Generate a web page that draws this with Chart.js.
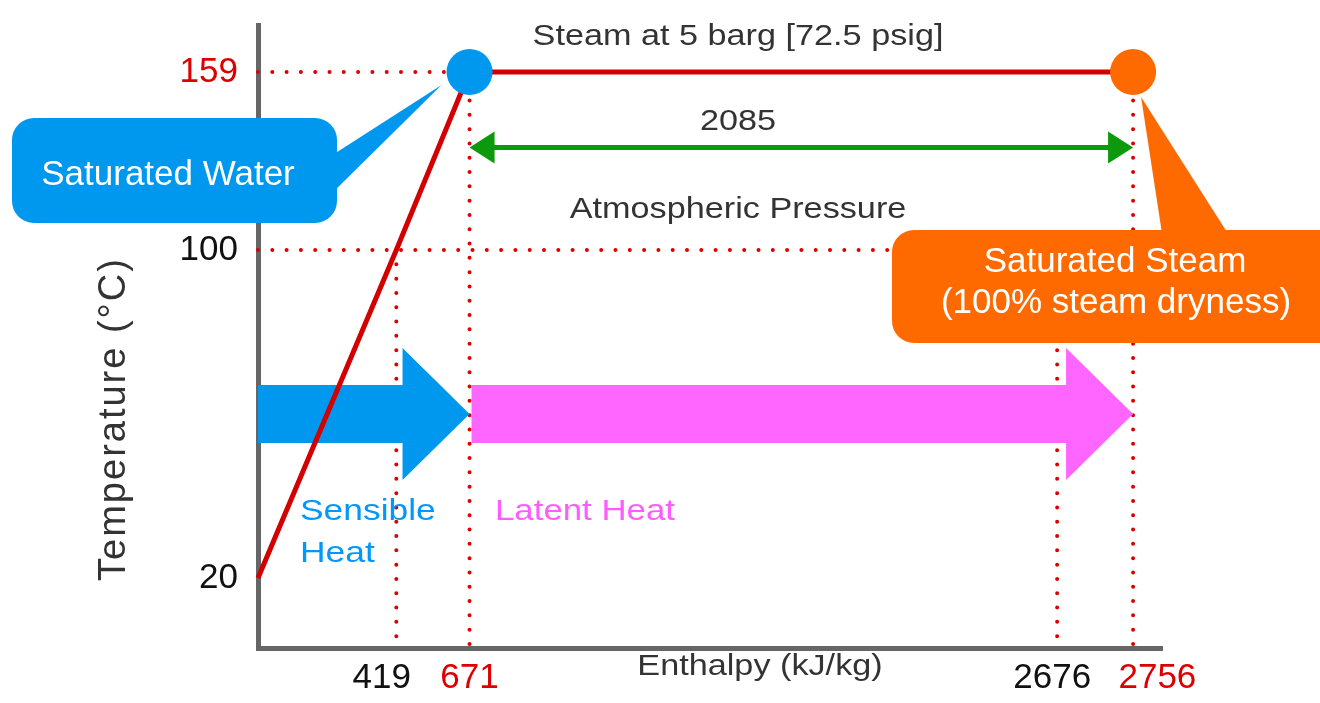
<!DOCTYPE html>
<html>
<head>
<meta charset="utf-8">
<script src="https://cdn.jsdelivr.net/npm/chart.js"></script>
<style>
  html, body { margin: 0; padding: 0; background: #fff; }
  #wrap { width: 1320px; height: 703px; position: relative; }
</style>
</head>
<body>
<div id="wrap"><canvas id="steamChart"></canvas></div>
<script>
// values
const enthalpyTicks = [419, 671, 2676, 2756];   // kJ/kg
const tempTicks = [20, 100, 159];               // degC
const curveEnthalpy = [84, 419, 671, 2756];
const curveTemp = [20, 100, 159, 159];
const satWater = [671, 159];
const satSteam = [2756, 159];
const atmWater = [419, 100];
const atmSteam = [2676, 100];
const redTicks = [159, 671, 2756];
const heatArrowTemp = 60;     // level of the sensible / latent arrows
const spanArrowTemp = 134;    // level of the 2085 arrow

// the diagram is not to scale, so both axes are piecewise linear
const axisBreaks = {
  x: { values: [84, 419, 671, 2676, 2756, 2850], stops: [0, 0.153, 0.234, 0.884, 0.968, 1] },
  y: { values: [0, 20, 100, 159, 175], stops: [0, 0.1124, 0.6388, 0.9246, 1] }
};

class PiecewiseScale extends Chart.LinearScale {
  static id = 'piecewise';
  buildTicks() {
    const b = axisBreaks[this.id];
    this.min = b.values[0];
    this.max = b.values[b.values.length - 1];
    const list = this.id === 'x' ? enthalpyTicks : tempTicks;
    return list.map(v => ({ value: v }));
  }
  toDecimal(v) {
    const { values, stops } = axisBreaks[this.id];
    if (v <= values[0]) return stops[0];
    for (let i = 1; i < values.length; i++) {
      if (v <= values[i]) {
        return stops[i - 1] + (v - values[i - 1]) / (values[i] - values[i - 1]) * (stops[i] - stops[i - 1]);
      }
    }
    return stops[stops.length - 1];
  }
  getPixelForValue(v) {
    return this.getPixelForDecimal(this.toDecimal(v));
  }
  getValueForPixel(p) {
    const d = this.getDecimalForPixel(p);
    const { values, stops } = axisBreaks[this.id];
    for (let i = 1; i < stops.length; i++) {
      if (d <= stops[i]) {
        return values[i - 1] + (d - stops[i - 1]) / (stops[i] - stops[i - 1]) * (values[i] - values[i - 1]);
      }
    }
    return values[values.length - 1];
  }
}
Chart.register(PiecewiseScale);

Chart.defaults.font.family = '"Liberation Sans", Arial, sans-serif';

const xMin = axisBreaks.x.values[0];
const yMin = axisBreaks.y.values[0];
const pt = (x, y) => ({ x, y });

// dotted guide lines
const guideLines = [
  [pt(xMin, satWater[1]), pt(satWater[0], satWater[1])],
  [pt(xMin, atmWater[1]), pt(atmSteam[0], atmSteam[1])],
  [pt(atmWater[0], atmWater[1]), pt(atmWater[0], yMin)],
  [pt(satWater[0], satWater[1]), pt(satWater[0], yMin)],
  [pt(atmSteam[0], atmSteam[1]), pt(atmSteam[0], yMin)],
  [pt(satSteam[0], satSteam[1]), pt(satSteam[0], yMin)]
];

const datasets = guideLines.map(seg => ({
  label: 'guide',
  data: seg,
  showLine: true,
  borderColor: '#dd0000',
  borderWidth: 4,
  borderDash: [0, 14.3],
  borderCapStyle: 'round',
  pointRadius: 0,
  order: 4
}));

datasets.push({
  label: 'Heating curve',
  data: curveEnthalpy.map((h, i) => pt(h, curveTemp[i])),
  showLine: true,
  borderColor: '#d20000',
  borderWidth: 5,
  pointRadius: 0,
  order: 3
});
datasets.push({
  label: 'Saturated Water',
  data: [pt(satWater[0], satWater[1])],
  pointRadius: 23,
  pointBackgroundColor: '#0098ee',
  pointBorderWidth: 0,
  order: 1
});
datasets.push({
  label: 'Saturated Steam',
  data: [pt(satSteam[0], satSteam[1])],
  pointRadius: 23,
  pointBackgroundColor: '#ff6a00',
  pointBorderWidth: 0,
  order: 1
});

function blockArrow(ctx, x0, x1, y, shaftHalf, headHalf, headLen, color) {
  ctx.fillStyle = color;
  ctx.beginPath();
  ctx.moveTo(x0, y - shaftHalf);
  ctx.lineTo(x1 - headLen, y - shaftHalf);
  ctx.lineTo(x1 - headLen, y - headHalf);
  ctx.lineTo(x1, y);
  ctx.lineTo(x1 - headLen, y + headHalf);
  ctx.lineTo(x1 - headLen, y + shaftHalf);
  ctx.lineTo(x0, y + shaftHalf);
  ctx.closePath();
  ctx.fill();
}

function drawArrows(chart) {
  const ctx = chart.ctx, xs = chart.scales.x, ys = chart.scales.y;
  const y = ys.getPixelForValue(heatArrowTemp);
  const xw = xs.getPixelForValue(satWater[0]);
  const xsPix = xs.getPixelForValue(satSteam[0]);
  ctx.save();
  blockArrow(ctx, xs.getPixelForValue(xMin), xw, y, 29, 66, 67, '#0098ee');
  blockArrow(ctx, xw + 2, xsPix, y, 29, 66, 67, '#ff66ff');

  // double arrow for the latent heat span
  const ya = ys.getPixelForValue(spanArrowTemp);
  ctx.strokeStyle = '#0c990c';
  ctx.fillStyle = '#0c990c';
  ctx.lineWidth = 5;
  ctx.beginPath();
  ctx.moveTo(xw + 20, ya);
  ctx.lineTo(xsPix - 20, ya);
  ctx.stroke();
  ctx.beginPath();
  ctx.moveTo(xw, ya); ctx.lineTo(xw + 25, ya - 16); ctx.lineTo(xw + 25, ya + 16); ctx.closePath();
  ctx.fill();
  ctx.beginPath();
  ctx.moveTo(xsPix, ya); ctx.lineTo(xsPix - 25, ya - 16); ctx.lineTo(xsPix - 25, ya + 16); ctx.closePath();
  ctx.fill();
  ctx.restore();
}

function callout(ctx, box, tail, color) {
  ctx.fillStyle = color;
  ctx.beginPath();
  ctx.roundRect(box[0], box[1], box[2], box[3], 22);
  ctx.fill();
  ctx.beginPath();
  ctx.moveTo(tail[0][0], tail[0][1]);
  ctx.lineTo(tail[1][0], tail[1][1]);
  ctx.lineTo(tail[2][0], tail[2][1]);
  ctx.closePath();
  ctx.fill();
}

function label(ctx, text, x, y, size, color, align, sx) {
  ctx.save();
  ctx.font = size + 'px "Liberation Sans", Arial, sans-serif';
  ctx.fillStyle = color;
  ctx.textAlign = align;
  ctx.textBaseline = 'alphabetic';
  ctx.translate(x, y);
  ctx.scale(sx, 1);
  ctx.fillText(text, 0, 0);
  ctx.restore();
}

const diagramPlugin = {
  id: 'diagram',
  beforeDatasetDraw(chart, args) {
    if (chart.data.datasets[args.index].label === 'Heating curve') drawArrows(chart);
  },
  afterDatasetsDraw(chart) {
    const ctx = chart.ctx, xs = chart.scales.x, ys = chart.scales.y;
    const wx = xs.getPixelForValue(satWater[0]), wy = ys.getPixelForValue(satWater[1]);
    const sx = xs.getPixelForValue(satSteam[0]), sy = ys.getPixelForValue(satSteam[1]);
    ctx.save();
    callout(ctx, [12, 118, 325, 105], [[320, 163], [wx - 28, wy + 13], [320, 205]], '#0098ee');
    callout(ctx, [892, 230, 460, 113], [[1163, 240], [sx + 8, sy + 25], [1232, 240]], '#ff6a00');
    ctx.restore();

    label(ctx, 'Saturated Water', 168, 185, 35, '#ffffff', 'center', 1);
    label(ctx, 'Saturated Steam', 1115, 272, 35, '#ffffff', 'center', 1);
    label(ctx, '(100% steam dryness)', 1116, 313, 35, '#ffffff', 'center', 1);

    label(ctx, 'Steam at 5 barg [72.5 psig]', 738, 45, 29, '#333333', 'center', 1.18);
    label(ctx, String(satSteam[0] - satWater[0]), 738, 130, 29, '#333333', 'center', 1.18);
    label(ctx, 'Atmospheric Pressure', 738, 218, 29, '#333333', 'center', 1.18);
    label(ctx, 'Sensible', 300, 520, 30, '#0098ff', 'left', 1.18);
    label(ctx, 'Heat', 300, 562, 30, '#0098ff', 'left', 1.18);
    label(ctx, 'Latent Heat', 495, 520, 30, '#ff5cff', 'left', 1.16);
    label(ctx, 'Enthalpy (kJ/kg)', 760, 675, 29, '#333333', 'center', 1.18);

    // rotated axis title
    ctx.save();
    ctx.translate(125, 419);
    ctx.rotate(-Math.PI / 2);
    ctx.font = '38px "Liberation Sans", Arial, sans-serif';
    ctx.letterSpacing = '2px';
    ctx.fillStyle = '#333333';
    ctx.textAlign = 'center';
    ctx.textBaseline = 'alphabetic';
    ctx.fillText('Temperature (\u00B0C)', 0, 0);
    ctx.restore();
  }
};

const tickColor = c => redTicks.includes(c.tick.value) ? '#dd0000' : '#111111';

// the labels sit a little off their ticks in the original; pad with spaces
const xTickText = v => {
  if (v === 419) return '419   ';
  if (v === 2676) return '2676 ';
  if (v === 2756) return '     2756';
  return String(v);
};

new Chart(document.getElementById('steamChart'), {
  type: 'scatter',
  data: { datasets },
  plugins: [diagramPlugin],
  options: {
    responsive: true,
    maintainAspectRatio: false,
    animation: false,
    events: [],
    layout: { padding: { top: 25, right: 158, bottom: 0, left: 0 } },
    plugins: { legend: { display: false }, tooltip: { enabled: false } },
    scales: {
      x: {
        type: 'piecewise',
        grid: { display: false, drawTicks: false },
        border: { display: true, color: '#666666', width: 5 },
        ticks: {
          autoSkip: false,
          maxRotation: 0,
          padding: 9,
          color: tickColor,
          font: { size: 35 },
          callback: xTickText
        },
        afterFit: s => { s.height = 55; s.paddingLeft = 0; s.paddingRight = 0; }
      },
      y: {
        type: 'piecewise',
        grid: { display: false, drawTicks: false },
        border: { display: true, color: '#666666', width: 5 },
        ticks: {
          autoSkip: false,
          padding: 20,
          color: tickColor,
          font: { size: 35 },
          callback: v => String(v)
        },
        afterFit: s => { s.width = 258; s.paddingTop = 0; s.paddingBottom = 0; }
      }
    }
  }
});
</script>
</body>
</html>
